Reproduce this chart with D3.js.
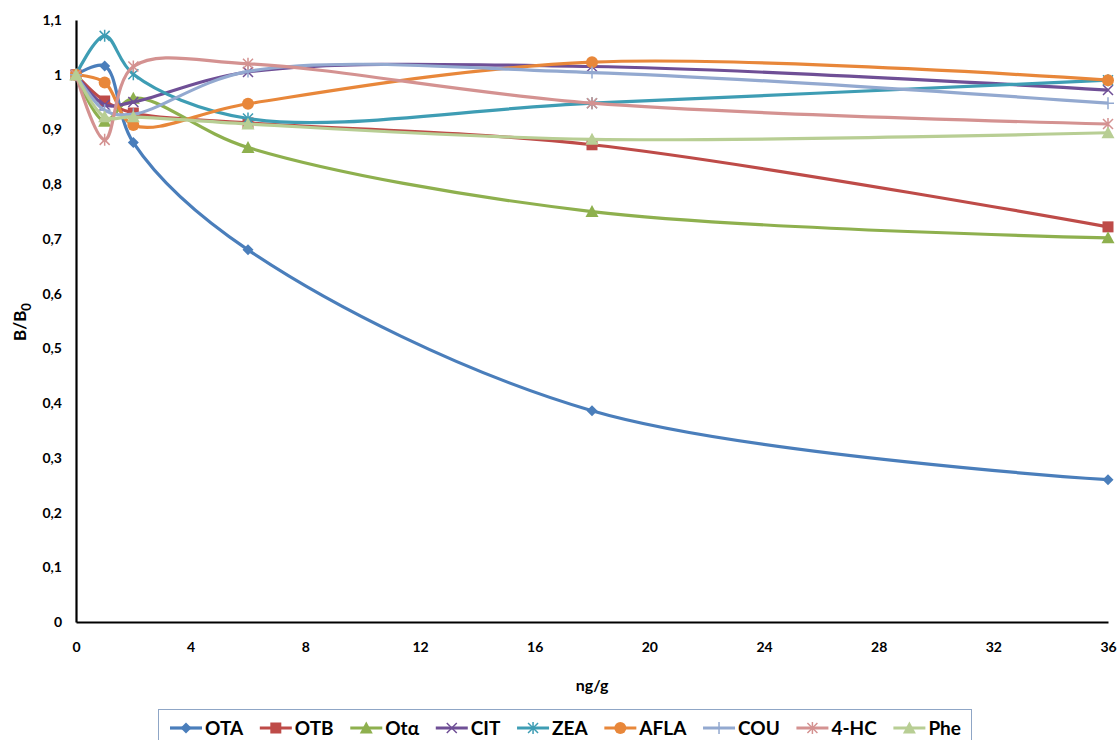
<!DOCTYPE html>
<html>
<head>
<meta charset="utf-8">
<script src="https://cdn.jsdelivr.net/npm/d3@7"></script>
<style>
  body { margin: 0; background: #fff; }
  text { font-family: Lato, "Open Sans", sans-serif; font-weight: bold; }
</style>
</head>
<body>
<svg id="chart" width="1120" height="740"></svg>
<script>
// concentrations (ng/g)
const doses = [0, 1, 2, 6, 18, 36];
const seriesNames = ["OTA", "OTB", "Otα", "CIT", "ZEA", "AFLA", "COU", "4-HC", "Phe"];

// B/B0
const ota  = [1, 1.016, 0.876, 0.680, 0.386, 0.260];
const otb  = [1, 0.952, 0.930, 0.912, 0.872, 0.722];
const otal = [1, 0.915, 0.957, 0.867, 0.750, 0.702];
const cit  = [1, 0.945, 0.950, 1.005, 1.015, 0.972];
const zea  = [1, 1.071, 1.001, 0.920, 0.948, 0.990];
const afla = [1, 0.986, 0.908, 0.947, 1.023, 0.990];
const cou  = [1, 0.935, 0.928, 1.006, 1.004, 0.948];
const hc4  = [1, 0.881, 1.015, 1.020, 0.948, 0.910];
const phe  = [1, 0.923, 0.923, 0.910, 0.882, 0.894];

const yTicks = [0, 0.1, 0.2, 0.3, 0.4, 0.5, 0.6, 0.7, 0.8, 0.9, 1, 1.1];
const xTicks = [0, 4, 8, 12, 16, 20, 24, 28, 32, 36];

const colors  = ["#4A7EBB", "#BE4B48", "#8EB04E", "#6F4F96", "#3E9DB4", "#E8873A", "#93A9D0", "#D49291", "#B8CE94"];
const markers = ["diamond", "square", "triangle", "x", "star", "circle", "plus", "star", "triangle"];
const values  = [ota, otb, otal, cit, zea, afla, cou, hc4, phe];

const svg = d3.select("#chart");
const plotL = 76, plotR = 1108, plotT = 20, plotB = 622;

const x = d3.scaleLinear().domain([0, 36]).range([plotL, plotR]);
const y = d3.scaleLinear().domain([0, 1.1]).range([plotB, plotT]);

// axes
const fmt = d => d3.format(".1~f")(d).replace(".", ",");

const yAxis = svg.append("g")
    .attr("transform", "translate(" + plotL + ",0)")
    .call(d3.axisLeft(y).tickValues(yTicks).tickSize(0).tickPadding(14).tickFormat(fmt));
const xAxis = svg.append("g")
    .attr("transform", "translate(0," + plotB + ")")
    .call(d3.axisBottom(x).tickValues(xTicks).tickSize(0).tickPadding(20).tickFormat(d3.format("d")));

[yAxis, xAxis].forEach(function(a) {
    a.select(".domain").attr("stroke", "#000").attr("stroke-width", 2.2);
    a.selectAll("text").attr("fill", "#000").style("font-size", "14px")
     .style("font-family", "Lato, sans-serif").style("font-weight", "bold");
});

svg.append("text")
    .attr("transform", "translate(26,322) rotate(-90)")
    .attr("text-anchor", "middle")
    .style("font-size", "17px")
    .html("B/B<tspan dy='5' font-size='13px'>0</tspan>");

svg.append("text")
    .attr("x", (plotL + plotR) / 2).attr("y", 691)
    .attr("text-anchor", "middle")
    .style("font-size", "16px")
    .text("ng/g");

const line = d3.line()
    .x((d, i) => x(doses[i]))
    .y(d => y(d))
    .curve(d3.curveCatmullRom.alpha(0.5));

function drawMarker(g, type, color) {
    if (type === "diamond") {
        g.append("path").attr("d", "M0,-5.5L5.5,0L0,5.5L-5.5,0Z").attr("fill", color);
    } else if (type === "square") {
        g.append("rect").attr("x", -5.5).attr("y", -5.5).attr("width", 11).attr("height", 11).attr("fill", color);
    } else if (type === "triangle") {
        g.append("path").attr("d", "M0,-6.5L6.5,5.5L-6.5,5.5Z").attr("fill", color);
    } else if (type === "circle") {
        g.append("circle").attr("r", 6).attr("fill", color);
    } else if (type === "x") {
        g.append("path").attr("d", "M-5,-5L5,5M-5,5L5,-5").attr("stroke", color).attr("stroke-width", 1.5);
    } else if (type === "star") {
        g.append("path").attr("d", "M-5,-5L5,5M-5,5L5,-5M0,-6L0,6").attr("stroke", color).attr("stroke-width", 1.5);
    } else if (type === "plus") {
        g.append("path").attr("d", "M-6,0L6,0M0,-6L0,6").attr("stroke", color).attr("stroke-width", 1.5);
    }
}

// series
values.forEach(function(vals, k) {
    svg.append("path")
        .datum(vals)
        .attr("d", line)
        .attr("fill", "none")
        .attr("stroke", colors[k])
        .attr("stroke-width", 3.2);
    vals.forEach(function(v, i) {
        const g = svg.append("g").attr("transform", "translate(" + x(doses[i]) + "," + y(v) + ")");
        drawMarker(g, markers[k], colors[k]);
    });
});

// legend
const legX = 158, legY = 709, legW = 813;
svg.append("rect")
    .attr("x", legX + 0.5).attr("y", legY + 0.5)
    .attr("width", legW).attr("height", 40)
    .attr("fill", "#fff").attr("stroke", "#8FA6C6").attr("stroke-width", 1);

const leg = svg.append("g");
const items = seriesNames.map(function(name, k) {
    const g = leg.append("g");
    g.append("line").attr("x1", 0).attr("x2", 32).attr("y1", 0).attr("y2", 0)
        .attr("stroke", colors[k]).attr("stroke-width", 3.2);
    const m = g.append("g").attr("transform", "translate(16,0)");
    drawMarker(m, markers[k], colors[k]);
    const t = g.append("text").attr("x", 35).attr("y", 7).style("font-size", "19px").attr("fill", "#000").text(name);
    return { g: g, w: 35 + t.node().getComputedTextLength() };
});
const totalW = d3.sum(items, d => d.w);
const gap = (legW - 22 - totalW) / (items.length - 1);
let cx = legX + 12;
items.forEach(function(it) {
    it.g.attr("transform", "translate(" + cx + "," + 728 + ")");
    cx += it.w + gap;
});
</script>
</body>
</html>
